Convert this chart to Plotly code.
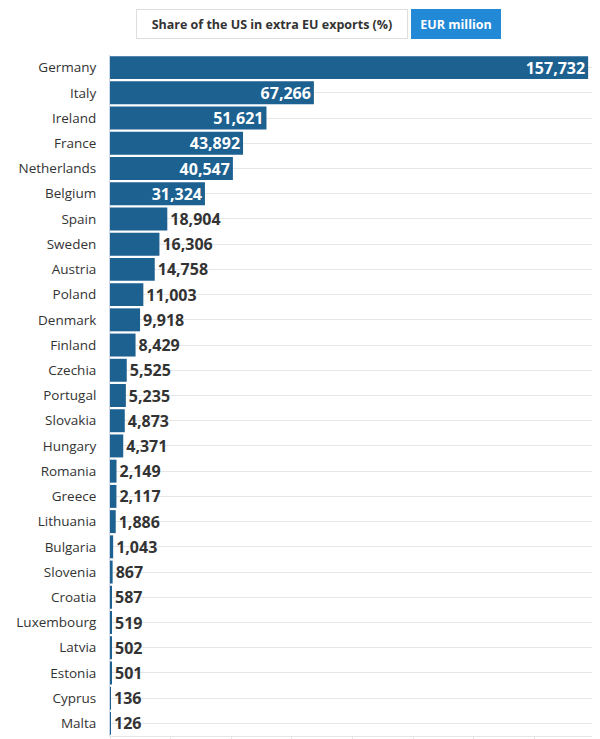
import plotly.graph_objects as go

countries = [
    "Germany", "Italy", "Ireland", "France", "Netherlands", "Belgium", "Spain",
    "Sweden", "Austria", "Poland", "Denmark", "Finland", "Czechia", "Portugal",
    "Slovakia", "Hungary", "Romania", "Greece", "Lithuania", "Bulgaria",
    "Slovenia", "Croatia", "Luxembourg", "Latvia", "Estonia", "Cyprus", "Malta",
]
exports_eur_million = [
    157732, 67266, 51621, 43892, 40547, 31324, 18904,
    16306, 14758, 11003, 9918, 8429, 5525, 5235,
    4873, 4371, 2149, 2117, 1886, 1043,
    867, 587, 519, 502, 501, 136, 126,
]
button_labels = ["Share of the US in extra EU exports (%)", "EUR million"]

BAR = "#1d6190"
FONT = "Open Sans, Noto Sans, sans-serif"

# big bars carry their label inside, the rest outside
inside = [v >= 30000 for v in exports_eur_million]
labels = [f"{v:,}" for v in exports_eur_million]

fig = go.Figure(go.Bar(
    x=exports_eur_million,
    y=countries,
    orientation="h",
    marker=dict(color=BAR, line=dict(width=0)),
    text=labels,
    textposition=["inside" if i else "outside" for i in inside],
    insidetextanchor="end",
    textfont=dict(family=FONT, size=16,
                  color=["white" if i else "#333333" for i in inside],
                  weight="bold"),
    constraintext="none",
    cliponaxis=False,
    hoverinfo="skip",
))

# page body has an 8px margin, so the figure is 8px smaller each way
OFF = 8
W, H = 600 - OFF, 739 - OFF
L, R, T, B = 110 - OFF, 5, 55 - OFF, 3


def px_x(p):
    return (p - OFF - L) / (W - L - R)


def px_y(p):
    return 1 - (p - OFF - T) / (H - T - B)


fig.add_annotation(
    x=px_x(272), y=px_y(24), xref="paper", yref="paper",
    xanchor="center", yanchor="middle",
    text=f"<b>{button_labels[0]}</b>", showarrow=False,
    font=dict(family=FONT, size=12.5, color="#333333"),
    bgcolor="white", bordercolor="#dddddd", borderwidth=1, borderpad=3,
    width=264, height=22,
)
fig.add_annotation(
    x=px_x(456), y=px_y(24), xref="paper", yref="paper",
    xanchor="center", yanchor="middle",
    text=f"<b>{button_labels[1]}</b>", showarrow=False,
    font=dict(family=FONT, size=12.5, color="white"),
    bgcolor="#2189d6", bordercolor="#2189d6", borderwidth=1, borderpad=3,
    width=82, height=22,
)

fig.update_layout(
    width=W, height=H,
    margin=dict(l=L, r=R, t=T, b=B),
    paper_bgcolor="white", plot_bgcolor="white",
    bargap=0.09,
    showlegend=False,
    font=dict(family=FONT, color="#333333"),
    uniformtext=dict(minsize=16, mode="show"),
)
fig.update_xaxes(
    range=[0, 160000], dtick=20000, showgrid=False, zeroline=False,
    showticklabels=False, ticks="outside", ticklen=4, tickcolor="#e6e6e6",
    showline=True, linecolor="#e6e6e6", automargin=False,
)
fig.update_yaxes(
    autorange="reversed", showgrid=True, gridcolor="#e6e6e6", gridwidth=1,
    showline=True, linecolor="#ccd6eb", ticks="", ticklabelstandoff=10,
    tickfont=dict(family=FONT, size=13.5, color="#333333"), automargin=False,
)

fig.write_html("out.html")
